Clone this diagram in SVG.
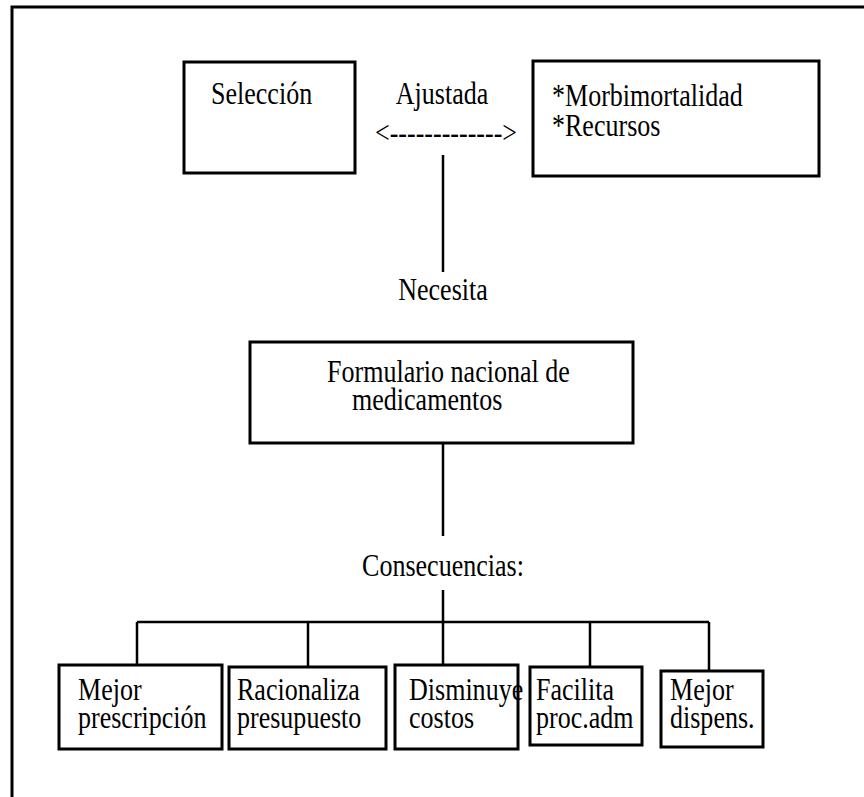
<svg xmlns="http://www.w3.org/2000/svg" width="864" height="797" viewBox="0 0 864 797">
<style>
.t{font-family:"Liberation Serif","Times New Roman",serif;font-size:31px;fill:#000}
.m{text-anchor:middle}
.b{fill:none;stroke:#000;stroke-width:3}
.l{fill:none;stroke:#000;stroke-width:2.5}
</style>
<rect width="864" height="797" fill="#fff"/>
<g id="frame"><path class="b" d="M12,797 V7 H864"/></g>
<g id="seleccion"><rect class="b" x="184" y="62" width="171" height="111"/><text class="t" transform="matrix(0.84,0,0,1,211,104)">Selección</text></g>
<g id="criterios"><rect class="b" x="533" y="61" width="286" height="115"/><text class="t" transform="matrix(0.84,0,0,1,552,106)">*Morbimortalidad</text><text class="t" transform="matrix(0.84,0,0,1,552,136)">*Recursos</text></g>
<g id="formulario"><rect class="b" x="250" y="342" width="383" height="101"/><text class="t" transform="matrix(0.84,0,0,1,327,382)">Formulario nacional de</text><text class="t" transform="matrix(0.84,0,0,1,352,410)">medicamentos</text></g>
<g id="c1"><rect class="b" x="59" y="665" width="163" height="84"/><text class="t" transform="matrix(0.84,0,0,1,78,700)">Mejor</text><text class="t" transform="matrix(0.84,0,0,1,78,728)">prescripción</text></g>
<g id="c2"><rect class="b" x="229" y="667" width="157" height="82"/><text class="t" transform="matrix(0.84,0,0,1,237,700)">Racionaliza</text><text class="t" transform="matrix(0.84,0,0,1,237,728)">presupuesto</text></g>
<g id="c3"><rect class="b" x="395" y="665" width="123" height="84"/><text class="t" transform="matrix(0.84,0,0,1,409,700)">Disminuye</text><text class="t" transform="matrix(0.84,0,0,1,409,728)">costos</text></g>
<g id="c4"><rect class="b" x="530" y="667" width="112" height="78"/><text class="t" transform="matrix(0.84,0,0,1,536,700)">Facilita</text><text class="t" transform="matrix(0.84,0,0,1,536,728)">proc.adm</text></g>
<g id="c5"><rect class="b" x="661" y="671" width="102" height="76"/><text class="t" transform="matrix(0.84,0,0,1,670,700)">Mejor</text><text class="t" transform="matrix(0.84,0,0,1,670,728)">dispens.</text></g>
<g id="connectors">
<text class="t m" transform="matrix(0.84,0,0,1,442,104)">Ajustada</text>
<text class="t m" transform="matrix(0.84,0,0,1,446,143)">&lt;-------------&gt;</text>
<path class="l" d="M443,155 V272"/>
<text class="t m" transform="matrix(0.84,0,0,1,443,300)">Necesita</text>
<path class="l" d="M443,443 V536 M443,590 V665"/>
<text class="t m" transform="matrix(0.84,0,0,1,443,576)">Consecuencias:</text>
<path class="l" d="M137,622 H709 M137,622 V665 M308,622 V667 M590,622 V667 M709,622 V671"/>
</g>
</svg>
